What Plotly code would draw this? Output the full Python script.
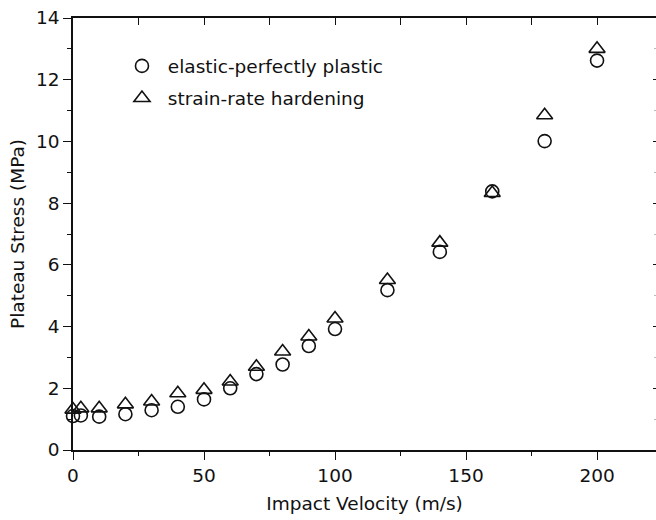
import plotly.graph_objects as go

# Data
velocity = [0, 3, 10, 20, 30, 40, 50, 60, 70, 80, 90, 100, 120, 140, 160, 180, 200]
stress_epp = [1.10, 1.12, 1.08, 1.16, 1.29, 1.40, 1.64, 2.00, 2.46, 2.77, 3.37, 3.92, 5.18, 6.42, 8.38, 10.01, 12.62]
stress_srh = [1.31, 1.35, 1.35, 1.48, 1.57, 1.84, 1.95, 2.22, 2.70, 3.19, 3.68, 4.26, 5.51, 6.72, 8.33, 10.85, 13.00]

names = ["elastic-perfectly plastic", "strain-rate hardening"]
x_title = "Impact Velocity (m/s)"
y_title = "Plateau Stress (MPa)"

FONT = "DejaVu Sans"
INK = "#111111"
NB = "\u00a0"
FS = 18.5

fig = go.Figure()
fig.add_trace(go.Scatter(
    x=velocity, y=stress_epp, mode="markers", name=NB + names[0],
    legendgroup="a", cliponaxis=False,
    marker=dict(symbol="circle-open", size=13, color=INK, line=dict(width=1.6, color=INK)),
))
fig.add_trace(go.Scatter(
    x=velocity, y=stress_srh, mode="markers", name=NB + names[1],
    legendgroup="b", cliponaxis=False,
    marker=dict(symbol="triangle-up-open", size=14, color=INK, line=dict(width=1.6, color=INK)),
))
# dummy trace to activate mirrored top/right axes
fig.add_trace(go.Scatter(x=[None], y=[None], xaxis="x2", yaxis="y2", showlegend=False, hoverinfo="skip"))

XR = [0, 222.5]
YR = [0, 14]

fig.update_layout(
    width=656, height=520,
    margin=dict(l=73, r=0, t=18, b=70),
    paper_bgcolor="white", plot_bgcolor="white",
    font=dict(family=FONT, size=FS, color=INK),
    showlegend=True,
    legend=dict(x=0.084, y=0.932, xanchor="left", yanchor="top",
                bgcolor="rgba(0,0,0,0)", borderwidth=0,
                font=dict(family=FONT, size=FS, color=INK),
                tracegroupgap=5, itemwidth=30),
    xaxis=dict(range=XR, showgrid=False, zeroline=False, showline=True,
               linecolor=INK, linewidth=1.6, mirror=False,
               ticks="outside", ticklen=8, tickwidth=1.4, tickcolor=INK,
               tick0=0, dtick=50,
               minor=dict(ticks="outside", ticklen=4, tickwidth=1.3, tickcolor=INK, dtick=25, showgrid=False),
               tickfont=dict(family=FONT, size=FS, color=INK),
               title=dict(text=x_title, font=dict(family=FONT, size=FS, color=INK), standoff=12)),
    yaxis=dict(range=YR, showgrid=False, zeroline=False, showline=True,
               linecolor=INK, linewidth=1.6, mirror=False,
               ticks="outside", ticklen=8, tickwidth=1.4, tickcolor=INK,
               tick0=0, dtick=2,
               minor=dict(ticks="outside", ticklen=4, tickwidth=1.3, tickcolor=INK, dtick=1, showgrid=False),
               tickfont=dict(family=FONT, size=FS, color=INK),
               title=dict(text=y_title, font=dict(family=FONT, size=FS, color=INK), standoff=6)),
    xaxis2=dict(range=XR, overlaying="x", side="top", showgrid=False, zeroline=False,
                showline=True, linecolor=INK, linewidth=1.6,
                ticks="inside", ticklen=7, tickwidth=1.4, tickcolor=INK,
                tick0=0, dtick=25, showticklabels=False),
    yaxis2=dict(range=YR, overlaying="y", side="right", showgrid=False, zeroline=False,
                showline=False,
                ticks="inside", ticklen=3, tickwidth=1.4, tickcolor=INK,
                tick0=0, dtick=2, showticklabels=False,
                minor=dict(ticks="inside", ticklen=2, tickwidth=1, tickcolor="#bbbbbb", dtick=1, showgrid=False)),
)

fig.write_html("out.html")
